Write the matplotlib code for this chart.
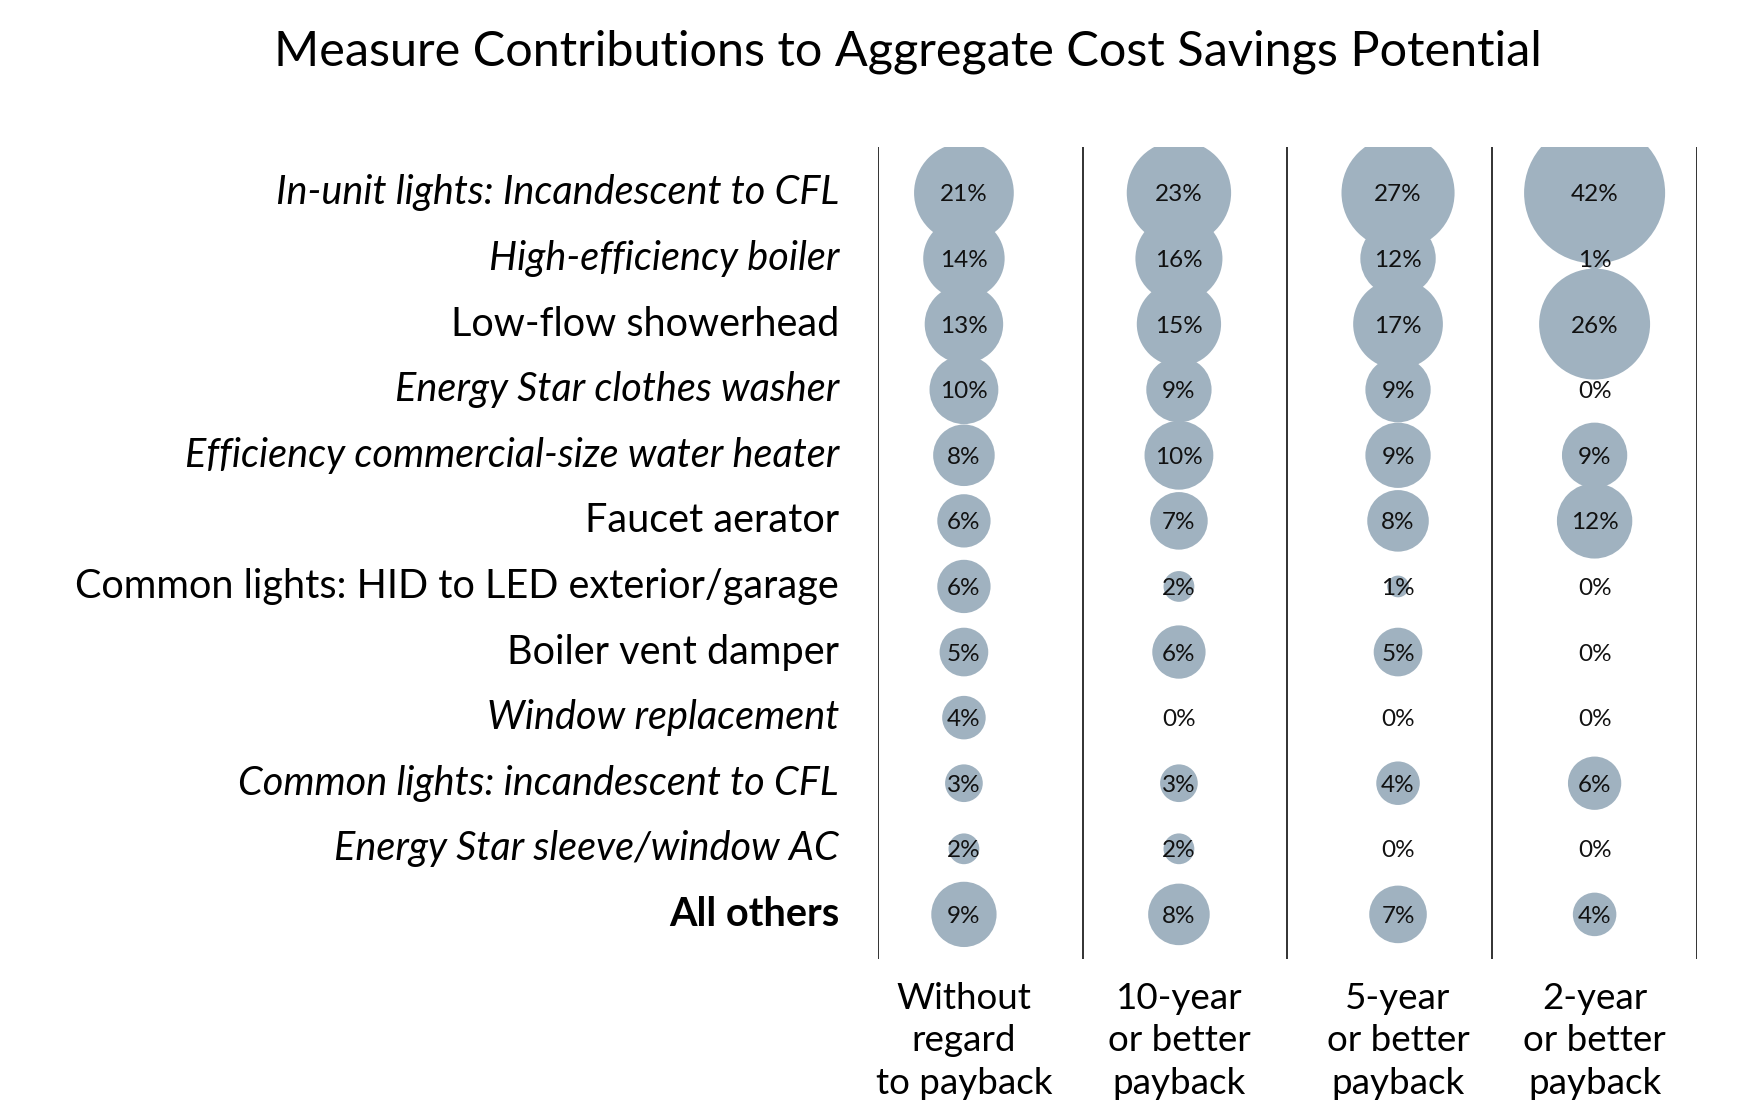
import matplotlib
matplotlib.use('Agg')
import matplotlib.pyplot as plt
import numpy as np

measures = ['In-unit lights: Incandescent to CFL', 'High-efficiency boiler',
            'Low-flow showerhead', 'Energy Star clothes washer',
            'Efficiency commercial-size water heater', 'Faucet aerator',
            'Common lights: HID to LED exterior/garage', 'Boiler vent damper',
            'Window replacement', 'Common lights: incandescent to CFL',
            'Energy Star sleeve/window AC', 'All others']
label_styles = ['italic', 'italic', 'normal', 'italic', 'italic', 'normal',
                'normal', 'normal', 'italic', 'italic', 'italic', 'bold']
scenarios = ['Without\nregard\nto payback', '10-year\nor better\npayback',
             '5-year\nor better\npayback', '2-year\nor better\npayback']

no_payback = [21, 14, 13, 10, 8, 6, 6, 5, 4, 3, 2, 9]
payback_10 = [23, 16, 15, 9, 10, 7, 2, 6, 0, 3, 2, 8]
payback_5 = [27, 12, 17, 9, 9, 8, 1, 5, 0, 4, 0, 7]
payback_2 = [42, 1, 26, 0, 9, 12, 0, 0, 0, 6, 0, 4]
series = [no_payback, payback_10, payback_5, payback_2]

plt.rcParams['font.family'] = ['Lato', 'DejaVu Sans']
bubble = '#a0b2c0'

fig = plt.figure(figsize=(17.52, 11.07), dpi=100)
ax = fig.add_axes([0.5011, 0.1337, 0.4675, 0.7335])
ax.set_xlim(-0.5, 3.5)
ax.set_ylim(11.68, -0.70)
ax.axis('off')

for i in range(5):
    ax.axvline(i - 0.5, color='#222222', lw=1.3)

# column centres sit a little off the middle of each band in the original
offsets = [-0.08, -0.03, 0.04, 0.0]

for col, vals in enumerate(series):
    vals = np.array(vals)
    ys = np.arange(len(vals))
    x = col + offsets[col]
    ax.scatter(np.full(len(vals), x), ys, s=vals * 245.5, color=bubble,
               edgecolors='none', zorder=2)
    for y, v in zip(ys, vals):
        ax.text(x, y + 0.03, f'{v}%', ha='center', va='center',
                fontsize=17.5, color='#111111', zorder=3)

for row, (name, style) in enumerate(zip(measures, label_styles)):
    kw = {'fontweight': 'bold'} if style == 'bold' else {'fontstyle': style}
    ax.text(-0.69, row, name, ha='right', va='center', fontsize=28.5,
            color='black', **kw)

for col, name in enumerate(scenarios):
    ax.text(col + offsets[col], 12.93, name, ha='center', va='center',
            fontsize=26.5, linespacing=1.36, color='black')

fig.text(0.518, 0.953, 'Measure Contributions to Aggregate Cost Savings Potential',
         ha='center', va='center', fontsize=35, color='black')

fig.savefig('out.png', dpi=100, facecolor='white')
